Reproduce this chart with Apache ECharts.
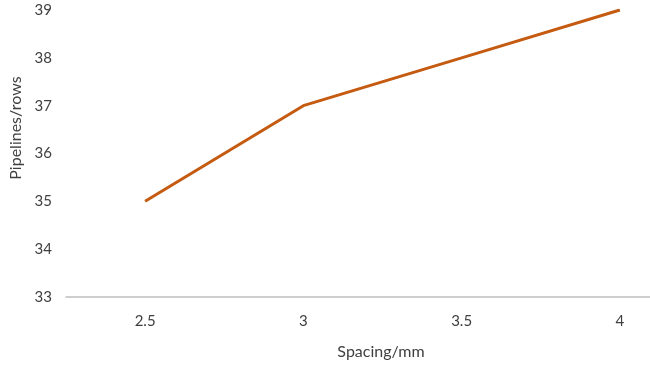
<!DOCTYPE html>
<html><head><meta charset="utf-8">
<script src="https://cdn.jsdelivr.net/npm/echarts@6/dist/echarts.min.js"></script>
<style>html,body{margin:0;padding:0;background:#fff;overflow:hidden;width:650px;height:375px}#c{width:700px;height:375px}</style>
</head><body><div id="c"></div>
<script>
const categories = ['2.5', '3', '3.5', '4'];
const pipelines = [35, 37, 38, 39];
const yTicks = { min: 33, max: 39, interval: 1 };

const chart = echarts.init(document.getElementById('c'));
chart.setOption({
  animation: false,
  grid: { left: 66, width: 633, top: 10, bottom: 78 },
  xAxis: {
    type: 'category', data: categories, boundaryGap: true,
    axisLine: { lineStyle: { color: '#bfbfbf', width: 1.5 } },
    axisTick: { show: false },
    axisLabel: { margin: 17, fontFamily: 'Lato', fontSize: 15, color: '#404040' }
  },
  yAxis: {
    type: 'value', min: yTicks.min, max: yTicks.max, interval: yTicks.interval,
    axisLine: { show: false }, axisTick: { show: false }, splitLine: { show: false },
    axisLabel: { margin: 14, fontFamily: 'Lato', fontSize: 15, color: '#404040' }
  },
  graphic: [{
    type: 'text', x: 8, y: 128, rotation: Math.PI / 2,
    style: { text: 'Pipelines/rows', fontFamily: 'Lato', fontSize: 16, fill: '#404040', align: 'center', verticalAlign: 'top' }
  }, {
    type: 'text', x: 381, y: 344,
    style: { text: 'Spacing/mm', fontFamily: 'Lato', fontSize: 16, fill: '#404040', align: 'center', verticalAlign: 'top' }
  }],
  series: [{
    type: 'line', data: pipelines, symbol: 'none',
    lineStyle: { color: '#C55A11', width: 3 }
  }]
});
</script></body></html>
